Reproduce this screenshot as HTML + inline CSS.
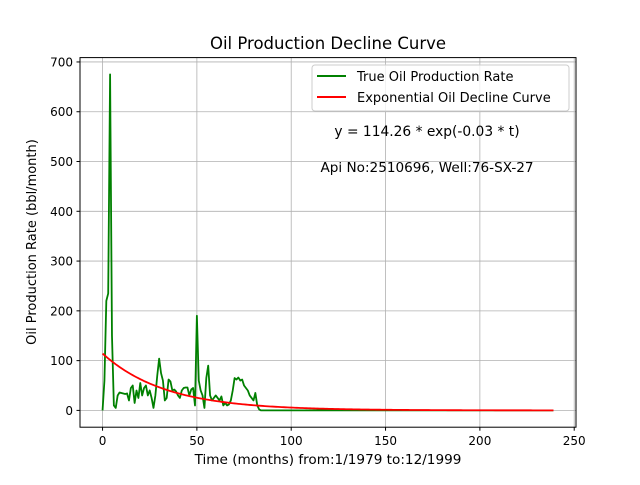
<!DOCTYPE html>
<html><head><meta charset="utf-8"><style>
body{margin:0;background:#fff;font-family:"Liberation Sans","DejaVu Sans",sans-serif;}
svg text{font-family:"DejaVu Sans","Liberation Sans",sans-serif;}
</style></head><body>
<svg id="chart" width="640" height="480" xmlns="http://www.w3.org/2000/svg">
<rect width="640" height="480" fill="#fff"/>
<text x="328" y="49" font-size="16.5" text-anchor="middle">Oil Production Decline Curve</text>
<g id="grid"></g><g id="ticks"></g><g id="series"></g>
<rect x="80" y="57.6" width="496" height="369.6" fill="none" stroke="#000" stroke-width="1"/>
<text x="328" y="464" font-size="13.6" text-anchor="middle">Time (months) from:1/1979 to:12/1999</text>
<text transform="translate(36,242) rotate(-90)" font-size="13" text-anchor="middle">Oil Production Rate (bbl/month)</text>
<g>
<rect x="312" y="65" width="257" height="46" rx="3" fill="#fff" fill-opacity="0.8" stroke="#ccc"/>
<line x1="317" y1="76" x2="346" y2="76" stroke="green" stroke-width="2"/>
<text x="357" y="81" font-size="13">True Oil Production Rate</text>
<line x1="317" y1="97" x2="346" y2="97" stroke="red" stroke-width="2"/>
<text x="357" y="102" font-size="13">Exponential Oil Decline Curve</text>
</g>
<text x="427" y="136" font-size="13.8" text-anchor="middle">y = 114.26 * exp(-0.03 * t)</text>
<text x="427" y="172" font-size="13.6" text-anchor="middle">Api No:2510696, Well:76-SX-27</text>
</svg>
<script>
const production=[0,60,220,235,675,150,10,5,30,36,35,34,33,34,20,45,50,15,40,25,55,30,45,50,30,40,25,5,30,70,104,75,60,20,25,62,58,40,42,38,30,25,40,45,46,46,30,42,45,10,190,60,40,30,5,65,90,30,20,25,30,25,20,28,10,15,10,12,20,40,65,62,66,60,62,50,45,40,30,25,20,35,10,2,0];
const nMonths=240;
const expA=114.26, expB=0.03;
const xTicks=[0,50,100,150,200,250];
const yTicks=[0,100,200,300,400,500,600,700];
const NS="http://www.w3.org/2000/svg";
const xMin=-11.95,xMax=250.95,yMin=-33.75,yMax=708.75;
const X=t=>80+(t-xMin)/(xMax-xMin)*496;
const Y=v=>427.2-(v-yMin)/(yMax-yMin)*369.6;
function mk(tag,attrs,parent){const e=document.createElementNS(NS,tag);for(const k in attrs)e.setAttribute(k,attrs[k]);document.getElementById(parent).appendChild(e);return e;}
xTicks.forEach(t=>{
 const g=mk('line',{x1:X(t),x2:X(t),y1:57.6,y2:427.2,stroke:'#b0b0b0','stroke-width':0.8},'grid');
 
 
 mk('line',{x1:X(t),x2:X(t),y1:427.2,y2:430.7,stroke:'#000'},'ticks');
 const l=mk('text',{x:X(t),y:445,'font-size':12,'text-anchor':'middle'},'ticks');
 
 
 l.textContent=t;
});
yTicks.forEach(v=>{
 const g=mk('line',{x1:80,x2:576,y1:Y(v),y2:Y(v),stroke:'#b0b0b0','stroke-width':0.8},'grid');
 
 
 mk('line',{x1:76.5,x2:80,y1:Y(v),y2:Y(v),stroke:'#000'},'ticks');
 const l=mk('text',{x:73,y:Y(v)+4.5,'font-size':12,'text-anchor':'end'},'ticks');
 
 
 l.textContent=v;
});
const vals=[];for(let t=0;t<nMonths;t++)vals.push(t<production.length?production[t]:0);
const p1=mk('polyline',{points:vals.map((v,t)=>X(t)+','+Y(v)).join(' '),fill:'none',stroke:'green','stroke-width':1.8,'stroke-linejoin':'round'},'series');


const ev=[];for(let t=0;t<nMonths;t++)ev.push(X(t)+','+Y(expA*Math.exp(-expB*t)));
const p2=mk('polyline',{points:ev.join(' '),fill:'none',stroke:'red','stroke-width':1.8},'series');


</script>
</body></html>
